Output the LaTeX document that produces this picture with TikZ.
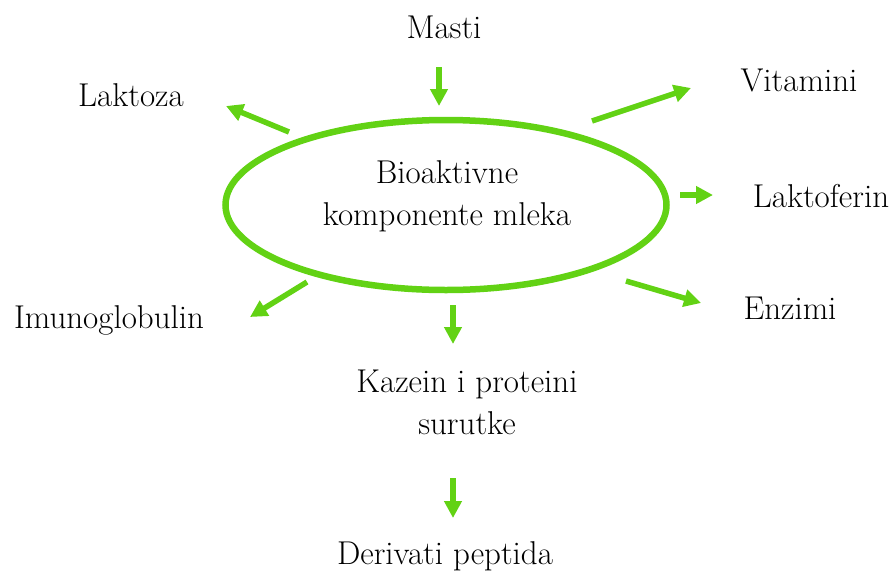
\documentclass[tikz,border=0pt]{standalone}
\usetikzlibrary{shapes.geometric,arrows.meta}
\definecolor{leaf}{RGB}{98,210,20}
\tikzset{
	lbl/.style={anchor=base,font=\fontsize{33}{42}\selectfont,inner sep=0pt},
	arr/.style={leaf,line width=5.5pt,-{Triangle[length=17pt,width=17pt]}},
	ring/.style={ellipse,draw=leaf,line width=6.5pt,minimum width=441pt,minimum height=170pt,inner sep=0pt}
}
\begin{document}
\begin{tikzpicture}[x=1pt,y=-1pt]
	\useasboundingbox (0,0) rectangle (892,574);
	\node [ring] (bio) at (446,205) {};
	\node [lbl,align=center] (biotxt) at (447,225) {Bioaktivne\\komponente mleka};

	\node [lbl] (masti) at (444,38) {Masti};
	\node [lbl] (laktoza) at (131,106) {Laktoza};
	\node [lbl] (vitamini) at (799,91) {Vitamini};
	\node [lbl] (laktoferin) at (821,207) {Laktoferin};
	\node [lbl] (enzimi) at (790,319) {Enzimi};
	\node [lbl] (imuno) at (109,328) {Imunoglobulin};
	\node [lbl,align=center] (kazein) at (467,434) {Kazein i proteini\\surutke};
	\node [lbl] (derivati) at (445,564) {Derivati peptida};

	\coordinate (mas-a) at (439,67);
	\coordinate (mas-b) at (439,106);
	\coordinate (lak-a) at (289,132);
	\coordinate (lak-b) at (226,106);
	\coordinate (vit-a) at (592,121);
	\coordinate (vit-b) at (691,88);
	\coordinate (lkf-a) at (680,195);
	\coordinate (lkf-b) at (713,195);
	\coordinate (enz-a) at (626,281);
	\coordinate (enz-b) at (701,303);
	\coordinate (imu-a) at (307,282);
	\coordinate (imu-b) at (250,317);
	\coordinate (kaz-a) at (453,305);
	\coordinate (kaz-b) at (453,344);
	\coordinate (der-a) at (453,478);
	\coordinate (der-b) at (453,518);

	\draw [arr] (mas-a) -- (mas-b);
	\draw [arr] (lak-a) -- (lak-b);
	\draw [arr] (vit-a) -- (vit-b);
	\draw [arr] (lkf-a) -- (lkf-b);
	\draw [arr] (enz-a) -- (enz-b);
	\draw [arr] (imu-a) -- (imu-b);
	\draw [arr] (kaz-a) -- (kaz-b);
	\draw [arr] (der-a) -- (der-b);
\end{tikzpicture}
\end{document}
